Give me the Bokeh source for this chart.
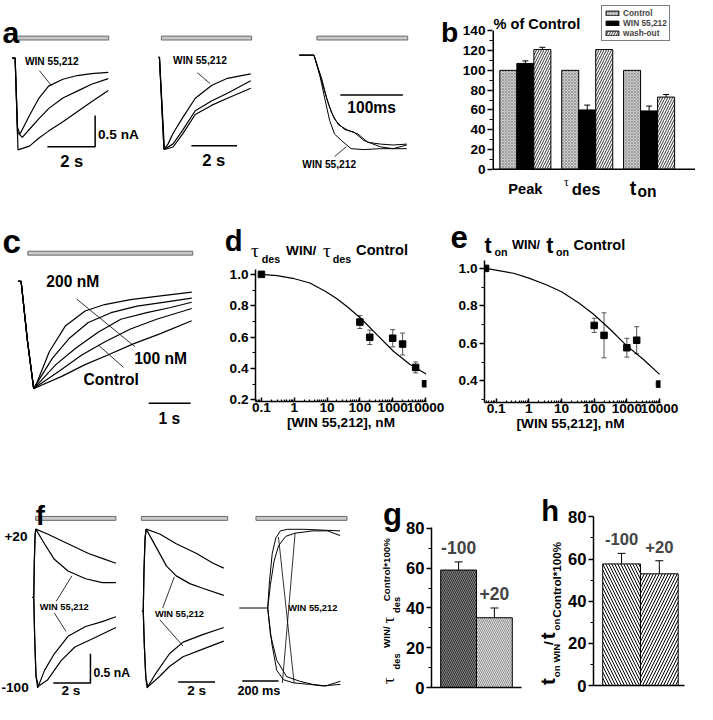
import math
from bokeh.plotting import figure
from bokeh.layouts import row, column
from bokeh.models import (Range1d, Label, FixedTicker, NumeralTickFormatter, Whisker,
                          TeeHead, ColumnDataSource, Legend, LegendItem, LinearScale)
from bokeh.embed import file_html
from bokeh.resources import INLINE

# ======================= DATA =======================
A1_WIN_T = [-0.12, 0.0, 0.10, 0.20, 0.60, 1.00, 1.40, 2.00, 2.60, 3.20, 3.90]
A1_WIN_I = [0.0, 0.0, -1.11, -1.22, -0.92, -0.64, -0.45, -0.34, -0.28, -0.25, -0.23]
A1_MID_T = [-0.12, 0.0, 0.10, 0.30, 0.60, 1.00, 1.40, 2.00, 2.60, 3.20, 3.90]
A1_MID_I = [0.0, 0.0, -1.19, -1.27, -1.14, -0.97, -0.81, -0.64, -0.53, -0.42, -0.33]
A1_CTL_T = [-0.12, 0.0, 0.12, 0.60, 1.00, 1.40, 2.00, 2.60, 3.20, 3.90]
A1_CTL_I = [0.0, 0.0, -1.47, -1.41, -1.28, -1.17, -1.02, -0.86, -0.70, -0.52]
A1_APP = [0.0, 3.92]

A2_WIN_T = [-0.05, 0.0, 0.20, 0.38, 0.60, 1.02, 1.57, 2.30, 2.98, 4.00]
A2_WIN_I = [0.0, 0.0, -1.48, -1.39, -1.22, -0.97, -0.66, -0.45, -0.34, -0.27]
A2_MID_T = [0.0, 0.20, 0.60, 1.02, 1.57, 2.30, 2.98, 4.00]
A2_MID_I = [0.0, -1.48, -1.39, -1.17, -0.86, -0.70, -0.58, -0.38]
A2_CTL_T = [0.0, 0.22, 0.60, 1.02, 1.57, 2.30, 2.98, 4.00]
A2_CTL_I = [0.0, -1.48, -1.44, -1.23, -0.92, -0.77, -0.66, -0.50]
A2_APP = [0.085, 4.04]

A3_WIN_T = [0, 23.4, 32.8, 40.6, 48.4, 56.3, 67.2, 82.8, 103.1, 129.7, 171.9]
A3_WIN_I = [0, 0, -0.22, -0.47, -0.71, -0.86, -0.93, -1.02, -1.03, -1.02, -1.02]
A3_T2_T = [0, 23.4, 35.9, 43.8, 51.6, 62.5, 78.1, 93.8, 109.4, 129.7, 150.0, 171.9]
A3_T2_I = [0, 0, -0.26, -0.47, -0.63, -0.76, -0.82, -0.86, -0.95, -0.97, -0.98, -0.97]
A3_T3_T = [0, 23.4, 35.9, 46.9, 56.3, 71.9, 87.5, 103.1, 129.7, 150.0, 171.9]
A3_T3_I = [0, 0, -0.29, -0.54, -0.70, -0.81, -0.84, -0.93, -1.00, -1.02, -0.98]
A3_APP = [28.1, 173.4]

B_GROUPS = ["Peak", "τdes", "ton"]
B_CONTROL = [100, 100, 100]
B_WIN = [107, 60, 59]
B_WIN_ERR = [2.6, 4.9, 4.9]
B_WASH = [121, 121, 73]
B_WASH_ERR = [2.3, 0, 2.6]

C_ONSET_T = [-0.093, -0.02, 0.13, 0.28]
C_ONSET_I = [0.0, 0.0, -0.55, -1.0]
C_T1_T = [0.342, 0.651, 1.040, 1.505, 1.970, 2.588, 3.209, 4.047]
C_T1_I = [-0.957, -0.655, -0.412, -0.275, -0.215, -0.170, -0.139, -0.100]
C_T2_T = [0.342, 0.728, 1.116, 1.581, 2.123, 2.744, 3.365, 4.047]
C_T2_I = [-0.957, -0.715, -0.534, -0.382, -0.291, -0.230, -0.194, -0.155]
C_T3_T = [0.342, 0.807, 1.272, 1.814, 2.356, 2.977, 3.519, 4.047]
C_T3_I = [-0.973, -0.775, -0.625, -0.473, -0.352, -0.291, -0.245, -0.194]
C_T4_T = [0.342, 0.884, 1.426, 1.970, 2.588, 3.209, 4.047]
C_T4_I = [-0.982, -0.836, -0.685, -0.564, -0.443, -0.352, -0.252]
C_T5_T = [0.342, 0.960, 1.505, 2.047, 2.667, 3.286, 4.047]
C_T5_I = [-0.988, -0.882, -0.775, -0.685, -0.579, -0.488, -0.366]
C_APP = [0.14, 4.07]

D_CONC = [0.1, 100, 200, 1000, 2000, 5000, 10000]
D_RATIO = [1.0, 0.696, 0.599, 0.593, 0.556, 0.407, 0.303]
D_ERR = [0, 0.041, 0.046, 0.055, 0.070, 0.035, 0]
D_FIT_X = [0.1, 0.3, 0.9, 3, 8.8, 20, 44, 110, 340, 1050, 3300, 10400]
D_FIT_Y = [1.0, 0.992, 0.975, 0.945, 0.893, 0.845, 0.789, 0.717, 0.613, 0.51, 0.427, 0.365]

E_CONC = [0.047, 100, 200, 1000, 2000, 10000]
E_RATIO = [1.0, 0.696, 0.643, 0.577, 0.617, 0.383]
E_ERR = [0, 0.038, 0.12, 0.05, 0.072, 0]
E_FIT_X = [0.048, 0.34, 1, 3.4, 10, 33, 94, 330, 940, 3300, 10000]
E_FIT_Y = [1.0, 0.974, 0.948, 0.913, 0.875, 0.817, 0.757, 0.67, 0.591, 0.513, 0.435]

F1_CTL_UP_T = [-0.1, 0, 0.03, 0.07, 0.105, 0.737, 1.842, 2.947, 3.684, 4.421]
F1_CTL_UP_I = [0, 0, 0.6, 1.05, 1.167, 1.083, 0.917, 0.75, 0.667, 0.583]
F1_WIN_UP_T = [0, 0.03, 0.07, 0.105, 0.579, 1.105, 1.842, 2.789, 3.684, 4.421]
F1_WIN_UP_I = [0, 0.6, 1.05, 1.167, 0.917, 0.65, 0.45, 0.317, 0.25, 0.25]
F1_WIN_DN_T = [0, 0.05, 0.12, 0.211, 0.579, 1.105, 1.842, 2.789, 3.684, 4.421]
F1_WIN_DN_I = [0, -0.7, -1.35, -1.55, -1.25, -0.967, -0.667, -0.5, -0.417, -0.333]
F1_CTL_DN_T = [0, 0.05, 0.12, 0.25, 0.737, 1.474, 2.211, 3.105, 4.421]
F1_CTL_DN_I = [0, -0.7, -1.35, -1.52, -1.417, -1.083, -0.85, -0.717, -0.517]
F1_APP = [0.105, 4.42]

F2_CTL_UP_T = [-0.08, 0, 0.04, 0.1, 0.158, 0.895, 1.789, 2.895, 3.789, 4.368]
F2_CTL_UP_I = [0, 0, 0.7, 1.25, 1.40, 1.317, 1.15, 0.983, 0.817, 0.733]
F2_WIN_UP_T = [0, 0.04, 0.1, 0.158, 0.684, 1.263, 1.789, 2.526, 3.263, 4.368]
F2_WIN_UP_I = [0, 0.7, 1.25, 1.40, 1.10, 0.767, 0.60, 0.467, 0.383, 0.267]
F2_WIN_DN_T = [0, 0.06, 0.14, 0.211, 0.684, 1.421, 2.158, 3.263, 4.368]
F2_WIN_DN_I = [0, -0.6, -1.15, -1.317, -1.067, -0.733, -0.533, -0.40, -0.283]
F2_CTL_DN_T = [0, 0.06, 0.14, 0.25, 0.895, 1.421, 2.158, 3.263, 4.368]
F2_CTL_DN_I = [0, -0.6, -1.15, -1.30, -1.117, -0.95, -0.783, -0.65, -0.517]
F2_APP = [-0.105, 4.58]

F3_U1_T = [-157, 0, 10, 25, 45, 70, 110, 200, 300, 400]
F3_U1_I = [0, 0, 0.35, 0.70, 0.90, 0.99, 1.01, 1.01, 1.00, 0.99]
F3_U2_T = [0, 15, 35, 60, 100, 150, 250, 330, 400]
F3_U2_I = [0, 0.30, 0.60, 0.80, 0.92, 0.96, 0.99, 0.99, 0.93]
F3_D1_T = [0, 23, 50, 87, 141, 231, 303, 402]
F3_D1_I = [0, -0.46, -0.80, -0.92, -0.96, -0.98, -1.00, -0.98]
F3_D2_T = [0, 15, 50, 104, 177, 249, 321, 402]
F3_D2_I = [0, -0.34, -0.67, -0.88, -0.94, -0.98, -1.00, -0.94]
F3_APP = [-64.9, 437.8]

GH_LABELS = ["-100", "+20"]
G_VAL = [59.1, 35.1]
G_ERR = [4.1, 4.9]
H_VAL = [57.7, 53.0]
H_ERR = [5.0, 6.2]

SB_2S = 2.0
SB_HALF_NA = 0.5
SB_100MS = 100.0
SB_1S = 1.0
SB_200MS = 200.0

# ======================= HELPERS =======================
S = 695 / 713
def P(v):
    return int(round(v * S))

FONT = "Liberation Sans"
SERIF = "Liberation Serif"

def fs(size):
    return f"{size * S:.1f}px"

def make_fig(rect, frame, xr, yr, x_axis_type="linear", axes=True, x_axis_location="below"):
    x0, y0, x1, y1 = rect
    fx0, fy0, fx1, fy1 = frame
    kw = dict(width=P(x1) - P(x0), height=P(y1) - P(y0), x_range=xr, y_range=yr,
              x_axis_type=x_axis_type, output_backend="svg", toolbar_location=None,
              min_border_left=P(fx0) - P(x0), min_border_right=P(x1) - P(fx1),
              min_border_top=P(fy0) - P(y0), min_border_bottom=P(y1) - P(fy1),
              x_axis_location=x_axis_location)
    if not axes:
        kw.update(x_axis_location=None, y_axis_location=None)
    p = figure(**kw)
    try:
        p.frame_align = False
    except Exception:
        pass
    p.extra_x_ranges = {"px": Range1d(fx0, fx1)}
    p.extra_y_ranges = {"py": Range1d(fy1, fy0)}
    p.extra_x_scales = {"px": LinearScale()}
    p.extra_y_scales = {"py": LinearScale()}
    p.grid.visible = False
    p.outline_line_color = None
    p.background_fill_color = "white"
    p.border_fill_color = "white"
    return p

def strip(rect):
    x0, y0, x1, y1 = rect
    return make_fig(rect, rect, Range1d(x0, x1), Range1d(y1, y0), axes=False)

def trace_fig(rect, ox, oy, sx, sy):
    x0, y0, x1, y1 = rect
    xr = Range1d((x0 - ox) / sx, (x1 - ox) / sx)
    yr = Range1d((oy - y1) / sy, (oy - y0) / sy)
    return make_fig(rect, rect, xr, yr, axes=False)

def txt(p, x, y, s, size, align="left", baseline="middle", bold=True, font=FONT, angle=0.0):
    p.add_layout(Label(x=x, y=y, x_range_name="px", y_range_name="py", text=s,
                       text_font=font, text_font_size=fs(size),
                       text_font_style="bold" if bold else "normal",
                       text_align=align, text_baseline=baseline, angle=angle,
                       text_color="black"))

def leader(p, xs, ys, w=0.8):
    p.line(xs, ys, x_range_name="px", y_range_name="py", line_color="black", line_width=w)

def trace(p, t, i, w=1.2):
    p.line(t, i, line_color="black", line_width=w)

def app_bar(p, span, ytop, ybot):
    p.quad(left=[span[0]], right=[span[1]], top=[ytop], bottom=[ybot], y_range_name="py",
           fill_color="#c8c8c8", line_color="#6a6a6a", line_width=1)

def style_axis(ax, size=14):
    ax.axis_line_width = 1.5
    ax.axis_line_color = "black"
    ax.major_tick_line_width = 1.5
    ax.major_tick_line_color = "black"
    ax.minor_tick_line_width = 1.2
    ax.minor_tick_line_color = "black"
    ax.major_label_text_font = FONT
    ax.major_label_text_font_style = "bold"
    ax.major_label_text_font_size = fs(size)
    ax.major_label_text_color = "black"
    ax.major_label_standoff = 2

def y_ticks_out(ax):
    ax.major_tick_out = 5
    ax.major_tick_in = 0
    ax.minor_tick_out = 3
    ax.minor_tick_in = 0

def no_ticks(ax):
    ax.ticker = FixedTicker(ticks=[])
    ax.major_tick_line_color = None
    ax.minor_tick_line_color = None
    ax.major_tick_out = 0
    ax.minor_tick_out = 0
    ax.major_label_standoff = 0

LOG_MINOR = [m * 10.0 ** e for e in range(-2, 5) for m in range(2, 10)]

# ======================= PANEL a =======================
a1 = trace_fig((0, 0, 160, 205), 15, 59, 24.5, 64)
for t, i in ((A1_CTL_T, A1_CTL_I), (A1_MID_T, A1_MID_I), (A1_WIN_T, A1_WIN_I)):
    trace(a1, t, i)
app_bar(a1, A1_APP, 36.5, 40.5)
sbx, sby = 3.35, -1.42
a1.line([sbx - SB_2S, sbx, sbx], [sby, sby, sby + SB_HALF_NA], line_color="black", line_width=1.5)
txt(a1, 2, 33, "a", 31, baseline="alphabetic")
txt(a1, 25, 63, "WIN 55,212", 10.5)
leader(a1, [40, 52], [72, 87])
txt(a1, 100, 137, "0.5 nA", 14)
txt(a1, 73, 165, "2 s", 17, align="center")

a2 = trace_fig((160, 0, 300, 205), 163, 58, 23.5, 64)
for t, i in ((A2_CTL_T, A2_CTL_I), (A2_MID_T, A2_MID_I), (A2_WIN_T, A2_WIN_I)):
    trace(a2, t, i)
app_bar(a2, A2_APP, 36.5, 40.5)
a2.line([1.40, 1.40 + SB_2S], [-1.42, -1.42], line_color="black", line_width=1.5)
txt(a2, 177, 62, "WIN 55,212", 10.5)
leader(a2, [202, 215], [74, 85])
txt(a2, 219, 164, "2 s", 17, align="center")

a3 = trace_fig((300, 0, 471, 205), 307, 56, 0.64, 94)
for t, i in ((A3_T2_T, A3_T2_I), (A3_T3_T, A3_T3_I), (A3_WIN_T, A3_WIN_I)):
    trace(a3, t, i, w=1.0)
app_bar(a3, A3_APP, 36.5, 40.5)
a3.line([65.6, 65.6 + SB_100MS], [-0.436, -0.436], line_color="black", line_width=1.5)
txt(a3, 381, 110, "100ms", 16, align="center")
txt(a3, 310, 168, "WIN 55,212", 10.5)
leader(a3, [355, 343], [150, 160])
txt(a3, 452, 32, "b", 29, baseline="alphabetic")

# ======================= PANEL b =======================
B_XR = (0.469, 3.75)
B_PX_PER_UNIT = (173 - 31) / 140.0
pb = make_fig((471, 0, 713, 205), (503, 2, 713, 205), Range1d(*B_XR),
              Range1d(-(205 - 173) / B_PX_PER_UNIT, (173 - 2) / B_PX_PER_UNIT), x_axis_location=None)
bx = [i + 1 for i in range(len(B_GROUPS))]
bw = 0.275
r_c = pb.vbar(x=[x - bw for x in bx], top=B_CONTROL, width=bw, bottom=0,
              fill_color="#cfcfcf", line_color="black", line_width=1,
              hatch_pattern="x", hatch_color="#7a7a7a", hatch_scale=3, hatch_weight=0.6)
r_w = pb.vbar(x=bx, top=B_WIN, width=bw, bottom=0, fill_color="black", line_color="black")
r_o = pb.vbar(x=[x + bw for x in bx], top=B_WASH, width=bw, bottom=0,
              fill_color="white", line_color="black", line_width=1,
              hatch_pattern="/", hatch_color="black", hatch_scale=5, hatch_weight=0.8)
wx, wl, wu = [], [], []
for xs, vals, errs in ((bx, B_WIN, B_WIN_ERR), ([x + bw for x in bx], B_WASH, B_WASH_ERR)):
    for x, v, e in zip(xs, vals, errs):
        if e > 0:
            wx.append(x); wl.append(v); wu.append(v + e)
pb.add_layout(Whisker(source=ColumnDataSource(dict(x=wx, l=wl, u=wu)), base="x", lower="l", upper="u",
                      lower_head=None, upper_head=TeeHead(size=6, line_width=1), line_width=1))
B_TICKS = list(range(0, 141, 20))
pb.yaxis.ticker = FixedTicker(ticks=B_TICKS, minor_ticks=list(range(10, 140, 20)))
style_axis(pb.yaxis[0], 14)
y_ticks_out(pb.yaxis[0])
pb.yaxis[0].axis_line_color = None
# axis lines (y from 0 to the top tick, x along zero)
pb.segment(x0=[B_XR[0]], y0=[0], x1=[B_XR[0]], y1=[B_TICKS[-1]], line_color="black", line_width=3)
pb.segment(x0=[B_XR[0]], y0=[0], x1=[B_XR[1]], y1=[0], line_color="black", line_width=1.5)
leg = Legend(items=[LegendItem(label="Control", renderers=[r_c]),
                    LegendItem(label="WIN 55,212", renderers=[r_w]),
                    LegendItem(label="wash-out", renderers=[r_o])],
             location=(P(615) - P(503), P(205) - P(42)),
             border_line_color="black", border_line_width=1, background_fill_color="white",
             background_fill_alpha=1.0, label_text_font=FONT, label_text_font_style="bold",
             label_text_font_size=fs(8.5), glyph_width=16, glyph_height=6, label_height=7,
             label_standoff=3, spacing=0, padding=2, margin=0)
pb.add_layout(leg)
txt(pb, 504, 24, "% of Control", 15, baseline="alphabetic")
txt(pb, 537, 193, "Peak", 15, align="center", baseline="alphabetic")
txt(pb, 577, 187, "τ", 12, bold=False, font=SERIF, baseline="alphabetic")
txt(pb, 585, 194, "des", 17, baseline="alphabetic")
txt(pb, 645, 192, "t", 20, baseline="alphabetic")
txt(pb, 653, 196, "on", 16, baseline="alphabetic")

# ======================= PANEL c =======================
pc = trace_fig((0, 205, 205, 450), 22, 288, 43, 110)
for t, i in ((C_T5_T, C_T5_I), (C_T4_T, C_T4_I), (C_T3_T, C_T3_I), (C_T2_T, C_T2_I), (C_T1_T, C_T1_I)):
    trace(pc, C_ONSET_T + t, C_ONSET_I + i)
app_bar(pc, C_APP, 257, 261)
pc.line([3.02, 3.02 + SB_1S], [-1.136, -1.136], line_color="black", line_width=1.5)
txt(pc, 2, 247, "c", 34, baseline="alphabetic")
txt(pc, 47, 288, "200 nM", 16)
txt(pc, 137, 367, "100 nM", 16)
txt(pc, 85, 388, "Control", 16)
leader(pc, [78, 138], [306, 355])
leader(pc, [100, 126], [353, 376])
txt(pc, 173, 428, "1 s", 16, align="center")

# ======================= PANELS d, e =======================
def ratio_panel(rect, frame, xr, yr, conc, ratio, err, fx, fy, yticks, yminor, xlabel):
    p = make_fig(rect, frame, xr, yr, x_axis_type="log")
    p.line(fx, fy, line_color="black", line_width=1.2)
    wx, wl, wu = [], [], []
    for c, r, e in zip(conc, ratio, err):
        if e > 0:
            wx.append(c); wl.append(r - e); wu.append(r + e)
    p.add_layout(Whisker(source=ColumnDataSource(dict(x=wx, l=wl, u=wu)), base="x", lower="l",
                         upper="u", line_color="#555555", line_width=1,
                         lower_head=TeeHead(size=5, line_color="#555555", line_width=1),
                         upper_head=TeeHead(size=5, line_color="#555555", line_width=1)))
    p.scatter(conc, ratio, marker="square", size=6.5, color="black")
    p.xaxis.ticker = FixedTicker(ticks=[0.1, 1, 10, 100, 1000, 10000], minor_ticks=LOG_MINOR)
    p.xaxis.formatter = NumeralTickFormatter(format="0.[0]")
    p.yaxis.ticker = FixedTicker(ticks=yticks, minor_ticks=yminor)
    p.yaxis.formatter = NumeralTickFormatter(format="0.0")
    style_axis(p.xaxis[0], 14)
    style_axis(p.yaxis[0], 14)
    y_ticks_out(p.yaxis[0])
    ax = p.xaxis[0]
    ax.major_tick_in = 4; ax.major_tick_out = 0; ax.minor_tick_in = 2; ax.minor_tick_out = 0
    ax.major_label_standoff = 1
    ax.axis_label = xlabel
    ax.axis_label_standoff = 0
    ax.axis_label_text_font = FONT
    ax.axis_label_text_font_style = "bold"
    ax.axis_label_text_font_size = fs(14)
    ax.axis_label_text_color = "black"
    return p

pd_top = strip((205, 205, 460, 274))
txt(pd_top, 230, 247, "d", 30, baseline="alphabetic")
txt(pd_top, 257, 256, "τ", 20, bold=False, font=SERIF, baseline="alphabetic")
txt(pd_top, 268, 265, "des", 11, baseline="alphabetic")
txt(pd_top, 293, 256, "WIN/", 14, baseline="alphabetic")
txt(pd_top, 331, 256, "τ", 20, bold=False, font=SERIF, baseline="alphabetic")
txt(pd_top, 341, 265, "des", 11, baseline="alphabetic")
txt(pd_top, 365, 256, "Control", 15, baseline="alphabetic")
pdd = ratio_panel((205, 274, 460, 450), (262, 276, 437, 411.6), Range1d(0.066, 10700),
                  Range1d(0.19, 1.031), D_CONC, D_RATIO, D_ERR, D_FIT_X, D_FIT_Y,
                  [0.2, 0.4, 0.6, 0.8, 1.0], [0.3, 0.5, 0.7, 0.9], "[WIN 55,212], nM")

pe_top = strip((460, 205, 713, 264))
txt(pe_top, 462, 243, "e", 32, baseline="alphabetic")
txt(pe_top, 497, 252, "t", 22, baseline="alphabetic")
txt(pe_top, 507, 258, "on", 11, baseline="alphabetic")
txt(pe_top, 525, 251, "WIN/", 13, baseline="alphabetic")
txt(pe_top, 560, 252, "t", 22, baseline="alphabetic")
txt(pe_top, 570, 258, "on", 11, baseline="alphabetic")
txt(pe_top, 588, 251, "Control", 15, baseline="alphabetic")
pe = ratio_panel((460, 264, 713, 450), (497, 267, 677, 412), Range1d(0.0437, 10720),
                 Range1d(0.285, 1.042), E_CONC, E_RATIO, E_ERR, E_FIT_X, E_FIT_Y,
                 [0.4, 0.6, 0.8, 1.0], [0.3, 0.5, 0.7, 0.9], "[WIN 55,212],  nM")

# ======================= PANEL f =======================
f1 = trace_fig((0, 450, 138, 720), 34, 612, 19, 60)
for t, i in ((F1_CTL_UP_T, F1_CTL_UP_I), (F1_WIN_UP_T, F1_WIN_UP_I),
             (F1_WIN_DN_T, F1_WIN_DN_I), (F1_CTL_DN_T, F1_CTL_DN_I)):
    trace(f1, t, i)
app_bar(f1, F1_APP, 529, 533)
sfx, sfy = 3.05, -1.467
f1.line([sfx - SB_2S, sfx, sfx], [sfy, sfy, sfy + SB_HALF_NA], line_color="black", line_width=1.5)
txt(f1, 36, 528, "f", 28, baseline="alphabetic")
txt(f1, 4, 550, "+20", 14)
txt(f1, 1, 705, "-100", 14)
txt(f1, 95, 690, "0.5 nA", 12.5)
txt(f1, 72, 708, "2 s", 14, align="center")
txt(f1, 40, 622, "WIN 55,212", 9.5)
leader(f1, [57, 73], [616, 590])
leader(f1, [55, 67], [628, 647])

f2 = trace_fig((138, 450, 238, 720), 146, 626, 19, 60)
for t, i in ((F2_CTL_UP_T, F2_CTL_UP_I), (F2_WIN_UP_T, F2_WIN_UP_I),
             (F2_WIN_DN_T, F2_WIN_DN_I), (F2_CTL_DN_T, F2_CTL_DN_I)):
    trace(f2, t, i)
app_bar(f2, F2_APP, 529, 533)
f2.line([1.895, 1.895 + SB_2S], [-1.217, -1.217], line_color="black", line_width=1.5)
txt(f2, 201, 708, "2 s", 14, align="center")
txt(f2, 158, 629, "WIN 55,212", 9.5)
leader(f2, [166, 178], [623, 591])
leader(f2, [163, 187], [635, 662])

f3 = trace_fig((238, 450, 375, 720), 274, 623, 0.185, 80)
for t, i in ((F3_U2_T, F3_U2_I), (F3_U1_T, F3_U1_I), (F3_D2_T, F3_D2_I), (F3_D1_T, F3_D1_I)):
    trace(f3, t, i, w=1.0)
app_bar(f3, F3_APP, 529, 533)
f3.line([-140.5, -140.5 + SB_200MS], [-0.9375, -0.9375], line_color="black", line_width=1.5)
txt(f3, 243, 708, "200 ms", 13)
txt(f3, 295, 623, "WIN 55,212", 9.5)
leader(f3, [285, 301], [550, 700])
leader(f3, [289, 302], [700, 546])

# ======================= PANELS g, h =======================
def pct_panel(rect, frame, xr, yr, vals, errs, styles, lab_size):
    p = make_fig(rect, frame, xr, yr)
    xs = list(range(len(vals)))
    for x, v, st in zip(xs, vals, styles):
        p.vbar(x=[x], top=[v], bottom=0, width=1.0, line_color="black", line_width=1, **st)
    p.add_layout(Whisker(source=ColumnDataSource(dict(x=xs, l=vals, u=[v + e for v, e in zip(vals, errs)])),
                         base="x", lower="l", upper="u", lower_head=None,
                         upper_head=TeeHead(size=8, line_width=1), line_width=1))
    for x, v, e, lab in zip(xs, vals, errs, GH_LABELS):
        p.add_layout(Label(x=x, y=v + e, y_offset=14, text=lab, text_align="center",
                           text_baseline="middle", text_font=FONT, text_font_style="bold",
                           text_font_size=fs(lab_size)))
    p.yaxis.ticker = FixedTicker(ticks=[0, 20, 40, 60, 80], minor_ticks=[10, 30, 50, 70])
    style_axis(p.yaxis[0], 17)
    y_ticks_out(p.yaxis[0])
    style_axis(p.xaxis[0], 14)
    no_ticks(p.xaxis[0])
    return p

R = math.pi / 2
pg_left = strip((375, 450, 413, 720))
txt(pg_left, 392, 527, "g", 32, baseline="alphabetic")
txt(pg_left, 398, 701, "τ", 17, bold=False, font=SERIF, angle=R)
txt(pg_left, 406.5, 686, "des", 9.5, angle=R)
txt(pg_left, 396, 664, "WIN/", 10, angle=R)
txt(pg_left, 398, 639, "τ", 17, bold=False, font=SERIF, angle=R)
txt(pg_left, 406.5, 628, "des", 9.5, angle=R)
txt(pg_left, 396, 616, "Control*100%", 10, angle=R)
pg = pct_panel((413, 450, 545, 720), (442, 541, 535, 705), Range1d(-0.757, 1.757), Range1d(0, 80.5),
               G_VAL, G_ERR,
               [dict(fill_color="#8a8a8a", hatch_pattern="\\", hatch_color="#2a2a2a", hatch_scale=4, hatch_weight=1),
                dict(fill_color="#e2e2e2", hatch_pattern="\\", hatch_color="#8c8c8c", hatch_scale=4, hatch_weight=1)],
               18)

ph_left = strip((545, 450, 580, 720))
txt(ph_left, 555, 523, "h", 30, baseline="alphabetic")
txt(ph_left, 561, 702, "t", 21, angle=R)
txt(ph_left, 571, 694, "on", 10, angle=R)
txt(ph_left, 571, 679, "WIN", 10, angle=R)
txt(ph_left, 563, 661, "/", 14, angle=R)
txt(ph_left, 561, 655, "t", 21, angle=R)
txt(ph_left, 571, 646, "on", 10, angle=R)
txt(ph_left, 571, 633, "Control*100%", 12, angle=R)
ph = pct_panel((580, 450, 713, 720), (608, 529.6, 702, 703), Range1d(-0.744, 1.667), Range1d(0, 80.2),
               H_VAL, H_ERR,
               [dict(fill_color="white", hatch_pattern="\\", hatch_color="black", hatch_scale=6, hatch_weight=1),
                dict(fill_color="white", hatch_pattern="/", hatch_color="black", hatch_scale=6, hatch_weight=1)],
               17)

# ======================= LAYOUT =======================
layout = column(
    row(a1, a2, a3, pb),
    row(pc, column(pd_top, pdd), column(pe_top, pe)),
    row(f1, f2, f3, pg_left, pg, ph_left, ph),
)
open("out.html", "w").write(file_html(layout, INLINE, title="WIN 55,212 figure"))
